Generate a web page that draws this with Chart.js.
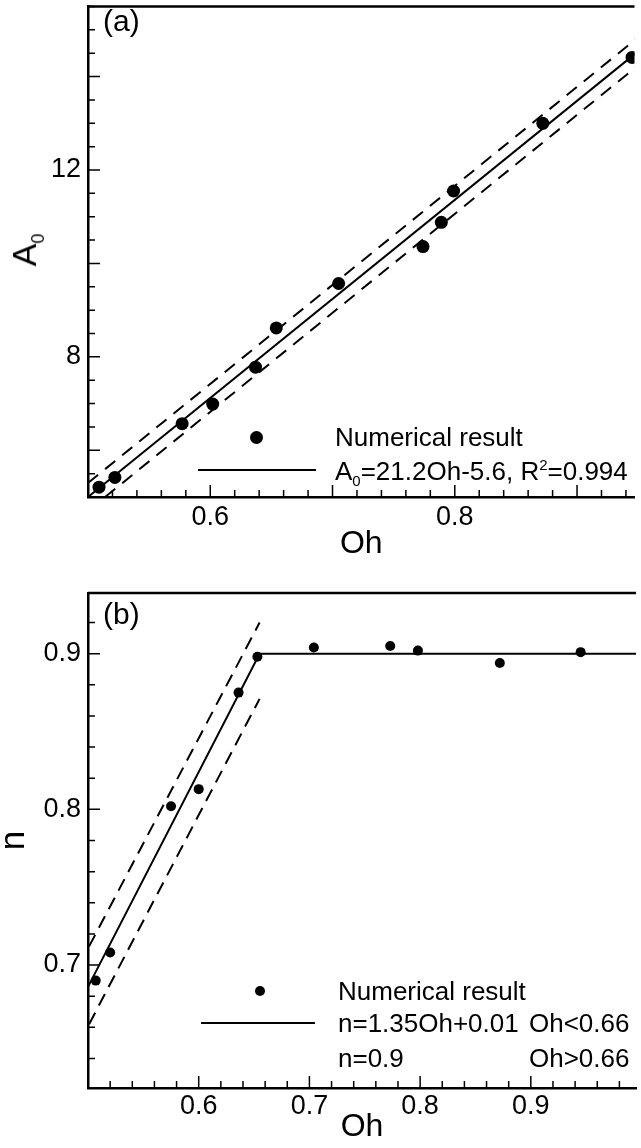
<!DOCTYPE html>
<html>
<head>
<meta charset="utf-8">
<title>A0 and n versus Oh</title>
<script src="https://cdn.jsdelivr.net/npm/chart.js@4.4.0/dist/chart.umd.min.js"></script>
<style>
  body { margin: 0; background: #fff; font-family: "Liberation Sans", Arial, sans-serif; }
  #wrap { position: relative; width: 641px; height: 1148px; overflow: hidden; }
  canvas { position: absolute; left: 0; }
  .txt { position: absolute; font-size: 26px; line-height: 26px; white-space: nowrap; color: #000; }
  .txt sub, .txt sup { font-size: 15px; line-height: 0; }
  .panel { font-size: 30px; line-height: 30px; }
  .ytitle { font-size: 34px; line-height: 34px; transform: translate(-50%, -50%) rotate(-90deg); }
  .ytitle sub { font-size: 18px; }
  .dot { position: absolute; background: #000; border-radius: 50%; }
  .sample { position: absolute; height: 2px; background: #000; }
</style>
</head>
<body>
<div id="wrap">
  <canvas id="chartA" width="641" height="560" style="top:0"></canvas>
  <canvas id="chartB" width="641" height="588" style="top:560px"></canvas>

  <!-- panel (a) -->
  <div class="txt panel" style="left:103px;top:6px">(a)</div>
  <div class="txt ytitle" style="left:24px;top:250px">A<sub>0</sub></div>
  <div class="dot" style="left:250px;top:431px;width:13px;height:13px"></div>
  <div class="txt" style="left:335px;top:424px">Numerical result</div>
  <div class="sample" style="left:198px;top:469px;width:118px"></div>
  <div class="txt" style="left:335px;top:458px">A<sub>0</sub>=21.2Oh-5.6, R<sup>2</sup>=0.994</div>

  <!-- panel (b) -->
  <div class="txt panel" style="left:103px;top:599px">(b)</div>
  <div class="dot" style="left:255px;top:986px;width:10px;height:10px"></div>
  <div class="txt" style="left:338px;top:978px">Numerical result</div>
  <div class="sample" style="left:201px;top:1022px;width:114px"></div>
  <div class="txt" style="left:338px;top:1010px">n=1.35Oh+0.01</div>
  <div class="txt" style="left:529px;top:1010px">Oh&lt;0.66</div>
  <div class="txt" style="left:338px;top:1045px">n=0.9</div>
  <div class="txt" style="left:529px;top:1045px">Oh&gt;0.66</div>
</div>

<script>
// (a) A0 against Oh
const ohA = [0.509, 0.522, 0.577, 0.602, 0.637, 0.654, 0.705, 0.774, 0.789, 0.799, 0.872, 0.945];
const a0Values = [5.21, 5.42, 6.57, 6.99, 7.78, 8.62, 9.57, 10.36, 10.88, 11.55, 13.0, 14.41];
const fitOhA = [0.5, 0.95];
const fitA0 = [5.0, 14.54];
const upperOhA = [0.5, 0.95];
const upperA0 = [5.3, 14.84];
const lowerOhA = [0.514, 0.95];
const lowerA0 = [5.0, 14.24];
const xLabelsA = [0.6, 0.8];
const yLabelsA = [8, 12];

// (b) n against Oh
const ohN = [0.507, 0.520, 0.575, 0.600, 0.636, 0.653, 0.704, 0.773, 0.798, 0.872, 0.945];
const nValues = [0.690, 0.708, 0.802, 0.813, 0.875, 0.898, 0.904, 0.905, 0.902, 0.894, 0.901];
const fitOhN = [0.5, 0.655, 1.0];
const fitN = [0.686, 0.9, 0.9];
const upperOhN = [0.501, 0.655];
const upperN = [0.712, 0.92];
const lowerOhN = [0.501, 0.655];
const lowerN = [0.662, 0.871];
const xLabelsB = [0.6, 0.7, 0.8, 0.9];
const yLabelsB = [0.7, 0.8, 0.9];

Chart.defaults.font.family = '"Liberation Sans", Arial, sans-serif';
Chart.defaults.color = '#000';

const zip = (xs, ys) => xs.map((x, i) => ({ x, y: ys[i] }));
const round = v => +v.toFixed(4);

function makeTicks(min, max, step) {
  const out = [];
  for (let k = Math.ceil(min / step - 1e-9); k * step <= max + 1e-9; k++) out.push(round(k * step));
  return out;
}

// inward tick marks (long on majors) and the top edge of the frame
const frameTicks = {
  id: 'frameTicks',
  afterDraw(chart, args, opts) {
    const { ctx, chartArea: a, scales: { x, y } } = chart;
    const isMajor = (v, step) => Math.abs(v / step - Math.round(v / step)) < 1e-6;
    ctx.save();
    ctx.strokeStyle = '#000';
    ctx.lineWidth = 1.5;
    ctx.beginPath();
    x.ticks.forEach(t => {
      const px = x.getPixelForValue(t.value);
      const len = isMajor(t.value, opts.xMajor) ? 12 : 7;
      ctx.moveTo(px, a.bottom);
      ctx.lineTo(px, a.bottom - len);
    });
    y.ticks.forEach(t => {
      const py = y.getPixelForValue(t.value);
      const len = isMajor(t.value, opts.yMajor) ? 12 : 7;
      ctx.moveTo(a.left, py);
      ctx.lineTo(a.left + len, py);
    });
    ctx.stroke();
    ctx.lineWidth = 2.5;
    ctx.beginPath();
    ctx.moveTo(a.left, a.top);
    ctx.lineTo(a.right, a.top);
    ctx.stroke();
    ctx.restore();
  }
};

function axis(cfg) {
  return {
    type: 'linear',
    min: cfg.min,
    max: cfg.max,
    grid: { display: false, drawTicks: false },
    border: { display: true, color: '#000', width: 2.5 },
    ticks: {
      autoSkip: false,
      maxRotation: 0,
      padding: cfg.pad,
      font: { size: 27 },
      callback: v => cfg.labels.includes(round(v)) ? String(round(v)) : ''
    },
    title: cfg.title,
    afterBuildTicks: s => { s.ticks = makeTicks(cfg.min, cfg.max, cfg.step).map(v => ({ value: v })); },
    afterFit: s => {
      if (cfg.width) s.width = cfg.width;
      if (cfg.height) s.height = cfg.height;
      s.paddingTop = s.paddingBottom = s.paddingLeft = s.paddingRight = 0;
    }
  };
}

function lineSet(data, dash) {
  return {
    data, showLine: true, pointRadius: 0, borderColor: '#000',
    borderWidth: 2, borderDash: dash, fill: false
  };
}

function pointSet(data, r) {
  return {
    data, showLine: false, pointRadius: r, pointBackgroundColor: '#000',
    pointBorderColor: '#000', pointBorderWidth: 0
  };
}

new Chart(document.getElementById('chartA'), {
  type: 'scatter',
  data: {
    datasets: [
      pointSet(zip(ohA, a0Values), 6.5),
      lineSet(zip(fitOhA, fitA0), []),
      lineSet(zip(upperOhA, upperA0), [13, 9]),
      lineSet(zip(lowerOhA, lowerA0), [13, 9])
    ]
  },
  options: {
    responsive: false,
    animation: false,
    layout: { padding: { top: 3, right: 0, left: 0, bottom: 0 } },
    plugins: { legend: { display: false }, tooltip: { enabled: false }, frameTicks: { xMajor: 0.1, yMajor: 2 } },
    scales: {
      x: axis({ min: 0.5, max: 0.947, step: 0.02, labels: xLabelsA, pad: 4, height: 63,
        title: { display: true, text: 'Oh', font: { size: 32, lineHeight: 1 }, padding: 0 } }),
      y: axis({ min: 5, max: 15.5, step: 0.5, labels: yLabelsA, pad: 7, width: 88,
        title: { display: false } })
    }
  },
  plugins: [frameTicks]
});

new Chart(document.getElementById('chartB'), {
  type: 'scatter',
  data: {
    datasets: [
      pointSet(zip(ohN, nValues), 5),
      lineSet(zip(fitOhN, fitN), []),
      lineSet(zip(upperOhN, upperN), [13, 8]),
      lineSet(zip(lowerOhN, lowerN), [13, 8])
    ]
  },
  options: {
    responsive: false,
    animation: false,
    layout: { padding: { top: 33, right: 0, left: 0, bottom: 0 } },
    plugins: { legend: { display: false }, tooltip: { enabled: false }, frameTicks: { xMajor: 0.1, yMajor: 0.1 } },
    scales: {
      x: axis({ min: 0.5, max: 0.995, step: 0.02, labels: xLabelsB, pad: 2, height: 60,
        title: { display: true, text: 'Oh', font: { size: 32, lineHeight: 1 }, padding: { top: 0, bottom: 5 } } }),
      y: axis({ min: 0.621, max: 0.939, step: 0.02, labels: yLabelsB, pad: 7, width: 88,
        title: { display: true, text: 'n', font: { size: 35, lineHeight: 0.8 }, padding: 0 } })
    }
  },
  plugins: [frameTicks]
});
</script>
</body>
</html>
